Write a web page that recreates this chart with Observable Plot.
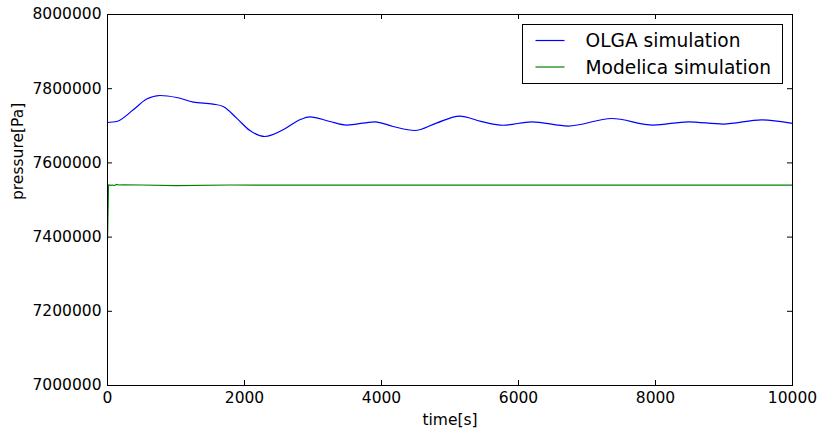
<!DOCTYPE html>
<html>
<head>
<meta charset="utf-8">
<script src="https://cdn.jsdelivr.net/npm/d3@7"></script>
<script src="https://cdn.jsdelivr.net/npm/@observablehq/plot@0.6"></script>
<style>
  html, body { margin: 0; padding: 0; background: #fff; }
  #chart { width: 821px; height: 434px; }
</style>
</head>
<body>
<div id="chart"></div>
<script>
// ---- data ----
const seriesNames = ["OLGA simulation", "Modelica simulation"];
const seriesColors = ["#0000ff", "#008000"];

const olgaTime = [0, 134, 376, 572, 766, 1009, 1252, 1543, 1689, 1885, 2079, 2298, 2565, 2808, 2954, 3246, 3490, 3903, 4169, 4486, 4802, 5142, 5450, 5780, 6193, 6727, 7361, 7968, 8479, 8990, 9550, 10000];
const olgaPressure = [7708900, 7711600, 7743100, 7772000, 7781700, 7776300, 7763900, 7758500, 7752000, 7720800, 7687300, 7671200, 7689200, 7716200, 7724300, 7711600, 7701900, 7710800, 7698100, 7687300, 7707300, 7726100, 7712000, 7701500, 7710800, 7699200, 7719700, 7701900, 7710800, 7704600, 7716200, 7706400];

const modelicaTime = [0, 15, 40, 70, 100, 130, 170, 220, 500, 1000, 1800, 3000, 5000, 7500, 10000];
const modelicaPressure = [7392700, 7541000, 7539500, 7540500, 7539000, 7542000, 7540500, 7541000, 7540500, 7538500, 7540500, 7540000, 7540000, 7540000, 7540000];

const xTicks = [0, 2000, 4000, 6000, 8000, 10000];
const yTicks = [7000000, 7200000, 7400000, 7600000, 7800000, 8000000];
const xLabel = "time[s]";
const yLabel = "pressure[Pa]";

// ---- build ----
const olga = olgaTime.map((t, i) => ({t, p: olgaPressure[i], s: seriesNames[0]}));
const modelica = modelicaTime.map((t, i) => ({t, p: modelicaPressure[i], s: seriesNames[1]}));

const W = 821, H = 434;
const mL = 107, mR = 29, mT = 14, mB = 49;
const innerW = W - mL - mR, innerH = H - mT - mB;
const tickLen = 5;
const font = "DejaVu Sans";

const chart = Plot.plot({
  width: W,
  height: H,
  marginLeft: mL,
  marginRight: mR,
  marginTop: mT,
  marginBottom: mB,
  style: {fontFamily: font, fontSize: "15.5px", color: "#000", background: "#fff"},
  x: {domain: [0, 10000]},
  y: {domain: [7000000, 8000000]},
  marks: [
    Plot.axisX(xTicks, {tickSize: 0, tickPadding: 6, tickFormat: d => String(d), label: null, fontSize: 15.5}),
    Plot.axisY(yTicks, {tickSize: 0, tickPadding: 6, tickFormat: d3.format("d"), label: null, fontSize: 15.5}),
    // inward ticks on all four sides
    Plot.tickY(yTicks, {y: d => d, insetRight: innerW - tickLen, stroke: "#000"}),
    Plot.tickY(yTicks, {y: d => d, insetLeft: innerW - tickLen, stroke: "#000"}),
    Plot.tickX(xTicks, {x: d => d, insetTop: innerH - tickLen, stroke: "#000"}),
    Plot.tickX(xTicks, {x: d => d, insetBottom: innerH - tickLen, stroke: "#000"}),
    Plot.line(olga, {x: "t", y: "p", stroke: seriesColors[0], strokeWidth: 1.2, curve: "monotone-x"}),
    Plot.line(modelica, {x: "t", y: "p", stroke: seriesColors[1], strokeWidth: 1.2}),
    Plot.frame({stroke: "#000"}),
    Plot.text([xLabel], {frameAnchor: "bottom", lineAnchor: "bottom", dy: 39, fontSize: 15.5, fill: "#000"}),
    Plot.text([yLabel], {frameAnchor: "left", lineAnchor: "bottom", rotate: -90, dx: -85, fontSize: 15.5, fill: "#000"})
  ]
});

// legend inside the frame, top-right
const svg = d3.select(chart);
const boxW = 260, boxH = 59;
const bx = W - mR - 10 - boxW + 0.5, by = mT + 10 + 0.5;
const lg = svg.append("g").attr("font-family", font).attr("font-size", "18.6px").attr("text-anchor", "start");
lg.append("rect").attr("x", bx).attr("y", by).attr("width", boxW).attr("height", boxH)
  .attr("fill", "#fff").attr("stroke", "#000").attr("stroke-width", 1);
seriesNames.forEach((name, i) => {
  const yy = by + 16 + i * 26.5;
  lg.append("line").attr("x1", bx + 13).attr("x2", bx + 42).attr("y1", yy).attr("y2", yy)
    .attr("stroke", seriesColors[i]).attr("stroke-width", 1.2);
  lg.append("text").attr("x", bx + 63).attr("y", yy + 6.5).attr("fill", "#000").attr("text-anchor", "start").text(name);
});

document.getElementById("chart").appendChild(chart);
</script>
</body>
</html>
